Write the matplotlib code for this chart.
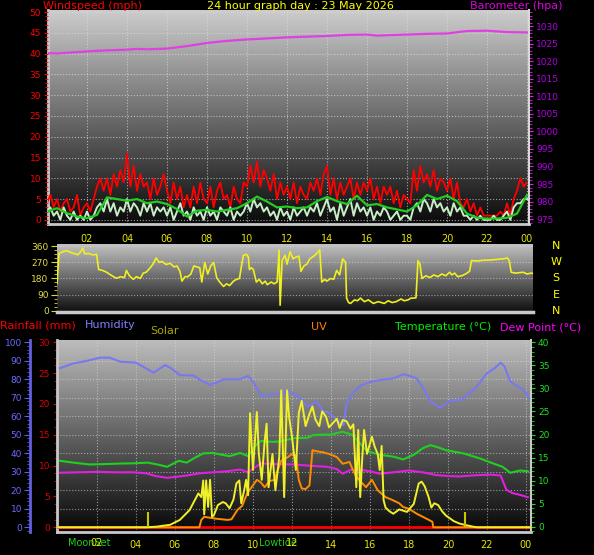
import numpy as np
import matplotlib
matplotlib.use('Agg')
import matplotlib.pyplot as plt
from matplotlib.ticker import MultipleLocator

W, H = 594, 555

# ---- wind (mph), 10 minute samples from 00:00
wind_t = np.arange(145) / 6.0
gust = [4, 6, 3, 5, 2, 4,  5, 2, 3, 6, 1, 3,  4, 2, 5, 8, 10, 7,
        10, 6, 11, 8, 12, 9,  16, 8, 13, 7, 11, 8,  9, 5, 10, 6, 8, 11,
        7, 4, 9, 5, 8, 3,  6, 3, 8, 4, 9, 5,  4, 8, 3, 7, 9, 5,
        6, 3, 8, 5, 4, 9,  8, 13, 9, 14, 8, 12,  10, 7, 11, 5, 9, 6,
        8, 5, 9, 4, 8, 6,  5, 9, 7, 10, 6, 11,  13, 6, 10, 5, 9, 6,
        8, 10, 5, 9, 6, 9,  7, 10, 5, 8, 4, 8,  6, 8, 4, 7, 3, 6,
        5, 4, 12, 7, 13, 9,  11, 8, 12, 7, 10, 9,  7, 10, 5, 9, 4, 3,
        5, 2, 4, 1, 3, 1,  1, 1, 1, 1, 2, 1,  4, 1, 5, 7, 10, 8,  9]
speed = [2, 3, 1, 2, 0, 3,  1, 0, 2, 0, 1, 0,  2, 0, 1, 3, 4, 2,
         5, 2, 4, 1, 3, 2,  5, 2, 4, 3, 1, 4,  2, 4, 1, 3, 2, 3,
         1, 3, 0, 2, 4, 1,  2, 0, 3, 1, 2, 0,  3, 1, 2, 0, 3, 2,
         1, 3, 0, 2, 1, 2,  4, 2, 5, 3, 4, 2,  3, 1, 2, 0, 3, 1,
         2, 0, 3, 1, 2, 3,  1, 3, 2, 4, 1, 3,  5, 2, 3, 0, 4, 1,
         3, 5, 1, 4, 2, 3,  1, 3, 0, 2, 1, 3,  2, 0, 1, 2, 0, 1,
         1, 0, 3, 4, 2, 5,  4, 2, 5, 3, 4, 2,  3, 1, 4, 2, 3, 1,
         1, 0, 1, 0, 1, 0,  0, 0, 1, 0, 0, 1,  2, 0, 3, 4, 4, 5,  5]
avg_t = np.arange(49) / 2.0
avg = [2.0, 2.8, 1.6, 0.8, 0.4, 1.2, 5.4, 5.0, 4.6, 5.0, 4.0, 4.4, 3.8,
       2.6, 0.8, 2.2, 2.4, 2.0, 2.4, 2.8, 4.0, 5.6, 4.4, 3.0, 3.2, 2.8,
       3.0, 4.5, 5.5, 4.5, 3.8, 5.8, 3.5, 3.8, 3.0, 2.5, 2.0, 3.5, 6.0,
       5.0, 5.8, 4.5, 1.5, 0.5, 0.3, 0.3, 0.5, 1.5, 6.0]

# ---- barometer (hPa)
baro_t = [0, 0.5, 1, 1.5, 2, 3, 4, 4.5, 5, 6, 7, 8, 9, 10, 11, 12, 13, 14,
          15, 16, 16.5, 17, 18, 19, 20, 21, 22, 22.5, 23, 24]
baro = [1022.3, 1022.2, 1022.4, 1022.6, 1022.8, 1023.1, 1023.3, 1023.5,
        1023.4, 1023.6, 1024.3, 1025.2, 1025.8, 1026.2, 1026.5, 1026.8,
        1027.0, 1027.2, 1027.5, 1027.6, 1027.3, 1027.4, 1027.6, 1027.8,
        1027.9, 1028.6, 1028.7, 1028.5, 1028.3, 1028.2]

# ---- wind direction (degrees)
dir_t = [0.0, 0.1, 0.3, 0.5, 0.7, 0.9, 1.05, 1.2, 1.3, 1.4, 1.6, 1.8, 2.0,
         2.1, 2.3, 2.5, 2.7, 2.85, 3.0, 3.2, 3.4, 3.5, 3.65, 3.85, 4.0, 4.2,
         4.35, 4.5, 4.7, 4.85, 5.0, 5.15, 5.3, 5.5, 5.7, 5.9, 6.05, 6.2, 6.3,
         6.45, 6.6, 6.75, 6.9, 7.05, 7.2, 7.3, 7.45, 7.6, 7.75, 7.9, 8.05,
         8.2, 8.4, 8.55, 8.7, 8.9, 9.05, 9.2, 9.3, 9.4, 9.55, 9.65, 9.7, 9.8,
         9.9, 10.05, 10.2, 10.35, 10.5, 10.6, 10.8, 10.95, 11.1, 11.2, 11.25,
         11.35, 11.5, 11.6, 11.75, 11.9, 12.05, 12.2, 12.3, 12.45, 12.6,
         12.75, 12.95, 13.1, 13.25, 13.35, 13.5, 13.6, 13.8, 13.95, 14.1,
         14.25, 14.4, 14.55, 14.6, 14.7, 14.8, 15.0, 15.15, 15.3, 15.5, 15.7,
         15.95, 16.2, 16.5, 16.7, 16.9, 17.1, 17.35, 17.5, 17.7, 17.85, 18.0,
         18.1, 18.2, 18.3, 18.4, 18.6, 18.8, 19.0, 19.2, 19.4, 19.6, 19.8,
         19.9, 20.05, 20.2, 20.4, 20.6, 20.8, 20.9, 21.2, 21.5, 21.8, 22.0,
         22.3, 22.5, 22.7, 22.8, 22.9, 23.1, 23.3, 23.5, 23.7, 23.9, 24.0]
dir_deg = [150, 320, 330, 336, 325, 318, 313, 330, 350, 318, 320, 312, 315,
           230, 225, 215, 200, 190, 181, 190, 185, 225, 195, 175, 190, 180,
           210, 215, 240, 262, 295, 270, 275, 258, 265, 245, 250, 220, 165,
           190, 190, 205, 250, 245, 240, 160, 270, 205, 250, 270, 185,
           160, 135, 150, 140, 165, 175, 180, 250, 310, 315, 300, 230, 240,
           230, 160, 175, 150, 165, 145, 160, 150, 160, 340, 30,
           280, 310, 260, 330, 290, 300, 305, 220, 250, 260,
           290, 305, 320, 340, 160, 175, 165, 180, 175, 225,
           200, 290, 270, 70, 45, 40, 60, 55, 70, 50, 60,
           40, 50, 40, 55, 45, 50, 65, 55, 60, 70, 70,
           72, 280, 260, 180, 195, 185, 200, 190, 205, 195, 215,
           200, 210, 190, 195, 205, 220, 280, 278, 282, 283, 285,
           288, 290, 295, 280, 215, 210, 212, 215, 205, 210, 208]

# ---- bottom panel
hum_t = [0.1, 0.5, 0.8, 1.5, 2.15, 2.65, 3.2, 4.0, 4.5, 4.9, 5.5, 5.8, 6.25,
         6.95, 7.4, 7.8, 8.1, 8.5, 9.3, 9.75, 10.0, 10.3, 10.5, 11.0, 11.4,
         11.75, 11.9, 12.4, 12.8, 13.1, 13.3, 13.6, 13.8, 14.0, 14.5, 14.65,
         14.8, 15.1, 15.5, 16.0, 16.5, 17.2, 17.7, 17.9, 18.4, 18.8, 19.1,
         19.6, 20.1, 20.7, 21.4, 22.0, 22.4, 22.7, 22.9, 23.2, 23.9, 24.15]
humidity = [86, 87.5, 88.6, 90, 91.7, 91.7, 89.5, 89, 86, 83.6, 87.7, 86,
            82.3, 82, 79, 77, 78, 80, 80, 81.8, 78.7, 73.3, 70.6, 71.9, 72.4,
            73.7, 73.3, 70, 65.2, 67, 67.9, 62.5, 62.5, 61, 56.2, 55.3,
            67, 72, 76.5, 78.5, 79.6, 80.5, 82.7, 82.3, 80.5, 74, 67.9,
            64.7, 68.3, 68.9, 75.1, 83.2, 86, 89, 87, 78.7, 74.2, 69.7]

temp_t = [0.1, 0.8, 1.6, 2.5, 3.2, 3.85, 4.6, 5.1, 5.6, 6.2, 6.6, 7.0, 7.45,
          7.95, 8.4, 8.8, 9.35, 9.75, 10.1, 10.4, 11.0, 11.4, 12.1, 12.8,
          13.1, 14.0, 14.6, 15.1, 15.4, 15.8, 15.95, 16.5, 17.2, 17.7, 18.25,
          18.7, 19.1, 19.5, 19.9, 20.8, 21.65, 22.3, 22.8, 23.2, 23.7, 24.1]
temperature = [14.3, 13.9, 13.5, 13.6, 13.7, 13.75, 13.9, 13.5, 13.0, 14.3,
               13.9, 14.9, 15.9, 16.0, 15.6, 15.3, 16.0, 15.3, 17.5, 18.6,
               18.4, 18.5, 19.2, 19.3, 19.9, 20.0, 20.6, 19.9, 18.5, 16.6,
               16.3, 15.6, 15.2, 14.6, 15.6, 17.0, 17.7, 17.2, 16.6, 15.9,
               14.8, 13.75, 13.0, 11.7, 12.2, 12.0]

dew_t = [0.1, 1.0, 2.0, 3.0, 3.85, 4.5, 5.0, 5.6, 6.0, 6.6, 7.3, 7.95, 8.6,
         9.35, 9.75, 10.4, 11.0, 12.1, 13.0, 13.8, 14.3, 14.6, 15.0, 15.45,
         16.0, 16.5, 17.2, 18.0, 18.7, 19.4, 20.0, 20.6, 21.2, 21.65, 22.2,
         22.7, 23.0, 23.3, 23.7, 24.1]
dew_point = [11.7, 11.8, 11.9, 11.8, 11.8, 11.6, 11.0, 10.6, 10.8, 11.1,
             11.6, 11.8, 12.0, 12.4, 11.8, 13.75, 13.6, 13.5, 13.2, 13.0,
             12.5, 11.5, 12.3, 12.4, 12.0, 11.5, 11.8, 12.2, 11.8, 11.2,
             11.0, 10.9, 11.1, 11.2, 11.3, 11.1, 8.0, 7.3, 6.9, 6.4]

# solar and UV are drawn against the rainfall scale (0-30)
solar_t = [0, 4.5, 5.05, 5.5, 5.75, 6.25, 6.75, 7.2, 7.35, 7.45, 7.5, 7.6,
           7.7, 7.8, 7.9, 8.0, 8.2, 8.45, 8.6, 8.8, 9.0, 9.15, 9.3, 9.4, 9.55,
           9.65, 9.75, 9.85, 10.0, 10.2, 10.3, 10.45, 10.6, 10.7, 10.8, 11.0,
           11.15, 11.35, 11.45, 11.6, 11.75, 11.85, 12.0, 12.2, 12.35, 12.5,
           12.7, 12.9, 13.05, 13.2, 13.4, 13.55, 13.75, 13.9, 14.1, 14.3,
           14.45, 14.6, 14.8, 15.0, 15.15, 15.3, 15.4, 15.5, 15.6, 15.7,
           15.85, 16.1, 16.25, 16.4, 16.5, 16.6, 16.7, 16.8, 17.0, 17.2, 17.5,
           17.9, 18.25, 18.5, 18.65, 18.8, 19.0, 19.15, 19.3, 19.5, 19.7,
           19.9, 20.3, 20.6, 21.0, 21.3, 21.5, 24.2]
solar = [0, 0, 0.1, 0.3, 0.4, 1.2, 2.8, 5.5, 4.9, 7.6, 2.1, 7.6,
         3.3, 7.7, 1.7, 2.0, 3.6, 4.1, 3.9, 3.1, 4.5, 7.1, 7.6, 3.9, 6.0,
         7.7, 5.2, 18.5, 9.3, 18.7, 12.0, 7.7, 14.0, 16.8, 6.5, 11.9,
         6.0, 11.4, 22.2, 4.9, 22.2, 18.0, 14.7, 9.3, 18.5, 20.5,
         16.4, 18.4, 19.6, 17.5, 16.4, 18.8, 17.9, 16.2, 16.9, 17.6,
         16.1, 17.4, 17.2, 16.0, 16.7, 6.5, 15.8, 4.9, 11.0, 15.8,
         11.9, 14.7, 13.0, 11.9, 9.3, 13.2, 4.4, 3.2, 2.6, 2.2, 2.9,
         2.5, 3.8, 7.1, 7.4, 6.7, 5.0, 3.2, 3.9, 3.6, 2.6,
         1.9, 1.0, 0.6, 0.3, 0.1, 0, 0]

uv_t = [0, 7.25, 7.35, 7.5, 8.1, 8.7, 8.9, 9.2, 9.45, 9.7, 10.0, 10.2, 10.4,
        10.6, 10.85, 11.1, 11.3, 11.45, 11.8, 12.0, 12.2, 12.35, 12.5, 12.7,
        12.9, 13.05, 13.3, 13.55, 13.9, 14.3, 14.6, 14.95, 15.1, 15.3, 15.5,
        15.8, 16.1, 16.4, 16.8, 17.1, 17.5, 17.7, 18.0, 18.4, 18.9, 19.2,
        19.25, 24.2]
uv = [0, 0, 1.2, 1.7, 1.4, 1.2, 1.3, 2.8, 3.5, 5.5, 6.8, 7.7, 7.3,
      6.5, 7.5, 7.7, 9.5, 10.8, 11.4, 11.9, 11.7, 7.7, 6.3, 6.2,
      6.8, 12.5, 12.3, 12.2, 11.9, 11.4, 10.3, 10.6, 9.5, 8.2, 7.5,
      6.5, 7.7, 6.0, 4.9, 4.5, 3.9, 3.3, 3.0, 2.2, 1.4, 0.9,
      0, 0]

rain_t = [0, 24.2]
rainfall = [0, 0]

hour_ticks = list(range(2, 25, 2))
hour_labels = ['02', '04', '06', '08', '10', '12', '14', '16', '18', '20', '22', '00']
dir_labels = ['N', 'W', 'S', 'E', 'N']
dir_ticks = [360, 270, 180, 90, 0]
events = {'MoonSet': 1.6, 'Lowtide': 11.3}
sun_marks = [4.6, 20.85]

YEL = '#E6E600'


def box(l, t, r, b):
    return [l / W, 1 - b / H, (r - l) / W, (b - t) / H]


def backdrop(ax, top, bottom):
    g = np.linspace(top, bottom, 256).reshape(-1, 1)
    ax.imshow(g, cmap='gray', vmin=0, vmax=1, extent=[0, 1, 0, 1],
              transform=ax.transAxes, aspect='auto', zorder=0)


def strip(ax):
    for s in ax.spines.values():
        s.set_visible(False)


fig = plt.figure(figsize=(W / 100, H / 100), dpi=100, facecolor='black')

# ================= wind / barometer =================
ax_w = fig.add_axes(box(48, 10, 529, 224))
ax_w.set_facecolor('black')
backdrop(ax_w, 0.80, 0.04)
ax_w.plot(wind_t, gust, color='#FF0000', lw=1.3, zorder=3)
ax_w.plot(wind_t, speed, color='#C8EEC8', lw=1.4, zorder=4)
ax_w.plot(avg_t, avg, color='#22CC22', lw=1.6, zorder=5)
ax_w.set_xlim(0.05, 24.1)
ax_w.set_ylim(-1, 50.5)
ax_w.set_yticks(range(0, 51, 5))
ax_w.yaxis.set_minor_locator(MultipleLocator(1))
ax_w.tick_params(axis='y', which='both', colors='#FF0000', labelsize=6.5, pad=2)
ax_w.tick_params(axis='y', which='major', length=3)
ax_w.tick_params(axis='y', which='minor', length=2)
ax_w.set_xticks(hour_ticks)
ax_w.set_xticklabels(hour_labels)
ax_w.tick_params(axis='x', length=0, labelcolor=YEL, labelsize=7, pad=7)
ax_w.grid(True, which='major', color='#DDDDDD', ls=':', lw=0.8, alpha=0.7)
ax_w.set_axisbelow(False)
strip(ax_w)
for s in ('left', 'bottom'):
    ax_w.spines[s].set_visible(True)
    ax_w.spines[s].set_color('#C8C8C8')
    ax_w.spines[s].set_linewidth(2)

ax_p = ax_w.twinx()
ax_p.plot(baro_t, baro, color='#E040E0', lw=1.6)
ax_p.set_ylim(973.6, 1034.6)
ax_p.set_yticks(range(975, 1031, 5))
ax_p.yaxis.set_minor_locator(MultipleLocator(1))
ax_p.tick_params(axis='y', which='both', colors='#E020E0', labelcolor='#B000E0',
                 labelsize=6.5, pad=2)
ax_p.tick_params(axis='y', which='major', length=3)
ax_p.tick_params(axis='y', which='minor', length=2)
strip(ax_p)
ax_p.spines['right'].set_visible(True)
ax_p.spines['right'].set_color('#D8D8D8')
ax_p.spines['right'].set_linewidth(1.5)

fig.text(43 / W, 1 - 6 / H, 'Windspeed (mph)', color='#FF0000', fontsize=8, va='center')
fig.text(300 / W, 1 - 6 / H, '24 hour graph day : 23 May 2026', color='#FFFF00',
         fontsize=8, va='center', ha='center')
fig.text(470 / W, 1 - 6 / H, 'Barometer (hpa)', color='#E000E0', fontsize=8, va='center')

# ================= wind direction =================
ax_d = fig.add_axes(box(57, 244, 533, 312))
ax_d.set_facecolor('black')
backdrop(ax_d, 0.76, 0.06)
ax_d.plot(dir_t, dir_deg, color='#F0F020', lw=1.2, zorder=3)
ax_d.set_xlim(0, 24)
ax_d.set_ylim(-8, 373)
ax_d.set_yticks([0, 90, 180, 270, 360])
ax_d.yaxis.set_minor_locator(MultipleLocator(22.5))
ax_d.tick_params(axis='y', which='both', colors='#D8D830', labelcolor='#E0E040',
                 labelsize=6.5, pad=2)
ax_d.tick_params(axis='y', which='major', length=4)
ax_d.tick_params(axis='y', which='minor', length=2)
ax_d.set_xticks([])
ax_d.grid(True, axis='y', color='#DDDDDD', ls=':', lw=0.8, alpha=0.6)
strip(ax_d)
ax_d.spines['bottom'].set_visible(True)
ax_d.spines['bottom'].set_color('#C8C8C8')
ax_d.spines['bottom'].set_linewidth(2.5)
yt = ax_d.get_yaxis_transform()
for lab, deg in zip(dir_labels, dir_ticks):
    ax_d.text((556 - 57) / 476, deg, lab, transform=yt, color='#FFFF00',
              fontsize=8, ha='center', va='center', clip_on=False)

# ================= rainfall / humidity / solar / temperature =================
ax_b = fig.add_axes(box(57, 340, 531, 532))
ax_b.set_facecolor('black')
backdrop(ax_b, 0.74, 0.03)
ax_b.set_xlim(-0.05, 24.26)
ax_b.set_ylim(-0.76, 30.37)
ax_b.plot(rain_t, rainfall, color='#FF0000', lw=2, zorder=3)
ax_b.set_yticks(range(0, 31, 5))
ax_b.yaxis.set_minor_locator(MultipleLocator(1.25))
ax_b.tick_params(axis='y', which='both', colors='#E00000', labelcolor='#E00000',
                 labelsize=6.5, pad=2)
ax_b.tick_params(axis='y', which='major', length=3)
ax_b.tick_params(axis='y', which='minor', length=2)
ax_b.set_xticks(hour_ticks)
ax_b.set_xticklabels(['' if l in ('02', '12') else l for l in hour_labels])
ax_b.tick_params(axis='x', length=0, labelcolor=YEL, labelsize=7, pad=6)
ax_b.grid(True, axis='x', color='#DDDDDD', ls=':', lw=0.8, alpha=0.6)
for hy in range(10, 100, 10):
    ax_b.axhline(hy * 0.3, color='#DDDDDD', ls=':', lw=0.8, alpha=0.6, zorder=1)
strip(ax_b)
for s in ('left', 'bottom'):
    ax_b.spines[s].set_visible(True)
    ax_b.spines[s].set_color('#C8C8C8')
    ax_b.spines[s].set_linewidth(2)

xt = ax_b.get_xaxis_transform()
for name, h in events.items():
    ax_b.text(h, -0.058, name, transform=xt, color='#22CC22', fontsize=7,
              ha='center', va='center', clip_on=False)
for h, lab in ((2, '02'), (12, '12')):
    ax_b.text(h, -0.058, lab, transform=xt, color=YEL, fontsize=7,
              ha='center', va='center', clip_on=False)

ax_t = ax_b.twinx()
ax_t.plot(temp_t, temperature, color='#20D020', lw=1.5)
ax_t.plot(dew_t, dew_point, color='#E020E0', lw=1.5)
ax_t.set_ylim(-1.15, 40.5)
ax_t.set_yticks(range(0, 41, 5))
ax_t.yaxis.set_minor_locator(MultipleLocator(1))
ax_t.tick_params(axis='y', which='both', colors='#20E020', labelcolor='#20E020',
                 labelsize=6.5, pad=2)
ax_t.tick_params(axis='y', which='major', length=3)
ax_t.tick_params(axis='y', which='minor', length=2)
strip(ax_t)
ax_t.spines['right'].set_visible(True)
ax_t.spines['right'].set_color('#C8C8C8')
ax_t.spines['right'].set_linewidth(1.5)

ax_h = ax_b.twinx()
ax_h.plot(hum_t, humidity, color='#7878F0', lw=1.5)
ax_h.set_ylim(-2.54, 101.24)
ax_h.yaxis.tick_left()
ax_h.set_yticks(range(0, 101, 10))
ax_h.yaxis.set_minor_locator(MultipleLocator(2))
ax_h.tick_params(axis='y', which='both', colors='#6060E0', labelcolor='#6A6AFF',
                 labelsize=6.5, pad=2)
ax_h.tick_params(axis='y', which='major', length=4)
ax_h.tick_params(axis='y', which='minor', length=2)
strip(ax_h)
ax_h.spines['left'].set_visible(True)
ax_h.spines['left'].set_position(('axes', (30.5 - 57) / 474))
ax_h.spines['left'].set_color('#6060E0')
ax_h.spines['left'].set_linewidth(2)

ax_s = ax_b.twinx()
ax_s.set_ylim(-0.76, 30.37)
ax_s.plot(uv_t, uv, color='#FF8C00', lw=1.4)
ax_s.plot(solar_t, solar, color='#F0F028', lw=1.4)
ax_s.vlines(sun_marks, 0, 2.5, color='#C8C800', lw=1.5)
ax_s.set_yticks([])
strip(ax_s)

fig.text(0 / W, 1 - 325 / H, 'Rainfall (mm)', color='#FF0000', fontsize=8, va='center')
fig.text(85 / W, 1 - 325 / H, 'Humidity', color='#8080FF', fontsize=8, va='center')
fig.text(150 / W, 1 - 331 / H, 'Solar', color='#A8A800', fontsize=8, va='center')
fig.text(311 / W, 1 - 327 / H, 'UV', color='#FF8000', fontsize=8, va='center')
fig.text(395 / W, 1 - 327 / H, 'Temperature (°C)', color='#00EE00', fontsize=8, va='center')
fig.text(500 / W, 1 - 327 / H, 'Dew Point (°C)', color='#FF00FF', fontsize=8, va='center')

fig.savefig('out.png', dpi=100, facecolor='black')
